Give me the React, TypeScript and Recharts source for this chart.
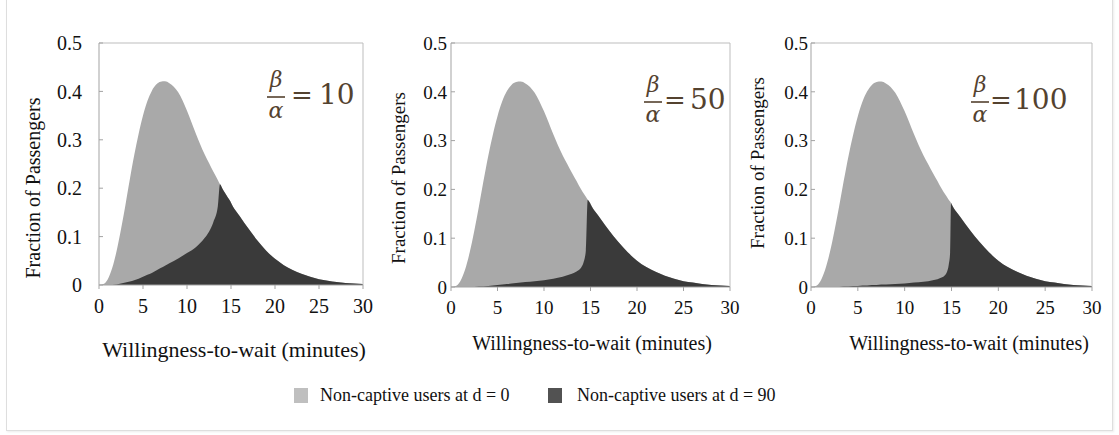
import React from 'react';
import { AreaChart, Area, XAxis, YAxis, ReferenceLine } from 'recharts';

// ---------- data ----------
const waitMinutes = [
  0, 0.5, 1, 1.5, 2, 2.5, 3, 3.5, 4, 4.5, 5, 5.5, 6, 6.5, 7, 7.5, 8,
  9, 10, 11, 12,
  12.5, 13, 13.5, 13.75, 14, 14.25, 14.5, 14.7, 14.85, 14.95, 15,
  16, 17, 18, 19, 20, 21, 22, 23, 24, 25, 26, 27, 28, 29, 30,
];

// Non-captive users at d = 0 (same in all three panels)
const shareD0 = [
  0, 0.002, 0.012, 0.035, 0.07, 0.115, 0.165, 0.218, 0.268, 0.312, 0.35, 0.38, 0.401, 0.414, 0.42, 0.421, 0.417,
  0.398, 0.36, 0.313, 0.27,
  0.252, 0.234, 0.217, 0.208, 0.2, 0.192, 0.185, 0.179, 0.175, 0.172, 0.17,
  0.142, 0.116, 0.092, 0.071, 0.054, 0.041, 0.031, 0.023, 0.017, 0.012, 0.009, 0.006, 0.004, 0.003, 0.002,
];

// Non-captive users at d = 90, beta/alpha = 10
const shareD90Ratio10 = [
  0, 0, 0, 0, 0.001, 0.003, 0.005, 0.007, 0.01, 0.013, 0.017, 0.021, 0.025, 0.03, 0.035, 0.04, 0.045,
  0.055, 0.066, 0.078, 0.097,
  0.11, 0.13, 0.162, 0.208, 0.2, 0.192, 0.185, 0.179, 0.175, 0.172, 0.17,
  0.142, 0.116, 0.092, 0.071, 0.054, 0.041, 0.031, 0.023, 0.017, 0.012, 0.009, 0.006, 0.004, 0.003, 0.002,
];

// Non-captive users at d = 90, beta/alpha = 50
const shareD90Ratio50 = [
  0, 0, 0, 0, 0, 0, 0.001, 0.001, 0.002, 0.003, 0.004, 0.005, 0.006, 0.007, 0.008, 0.009, 0.01,
  0.012, 0.014, 0.017, 0.021,
  0.024, 0.027, 0.032, 0.035, 0.04, 0.05, 0.075, 0.179, 0.175, 0.172, 0.17,
  0.142, 0.116, 0.092, 0.071, 0.054, 0.041, 0.031, 0.023, 0.017, 0.012, 0.009, 0.006, 0.004, 0.003, 0.002,
];

// Non-captive users at d = 90, beta/alpha = 100
const shareD90Ratio100 = [
  0, 0, 0, 0, 0, 0, 0, 0.001, 0.001, 0.002, 0.002, 0.003, 0.003, 0.004, 0.004, 0.005, 0.005,
  0.006, 0.007, 0.009, 0.011,
  0.012, 0.014, 0.016, 0.018, 0.02, 0.023, 0.03, 0.045, 0.07, 0.172, 0.17,
  0.142, 0.116, 0.092, 0.071, 0.054, 0.041, 0.031, 0.023, 0.017, 0.012, 0.009, 0.006, 0.004, 0.003, 0.002,
];

const xTicks = [0, 5, 10, 15, 20, 25, 30];
const yTicks = [0, 0.1, 0.2, 0.3, 0.4, 0.5];
const ratioLabels = ['10', '50', '100'];
const xTitle = 'Willingness-to-wait (minutes)';
const yTitle = 'Fraction of Passengers';
const legendLabels = ['Non-captive users at d = 0', 'Non-captive users at d = 90'];

// ---------- layout / style ----------
const FONT = '"Liberation Serif", "Times New Roman", serif';
const MATH_FONT = '"DejaVu Serif", "Liberation Serif", serif';
const LIGHT = '#a9a9a9';
const DARK = '#3a3a3a';
const AXIS = '#a3a3a3';
const FRAME = '#bdbdbd';
const PLOT_TOP = 43;
const Y_AXIS_W = 95;
const CHART_H = 370;
const X_AXIS_H = 80;

const layouts = [
  { plotLeft: 99, plotRight: 363, plotBottom: 285, tickFont: 20, xTitleFont: 22, yTitleFont: 20, yTickMargin: 21,
    yTitleX: 33, yTitleY: 188, xTitleX: 234, xTitleBase: 357,
    beta: { cx: 276, betaBase: 87, lineY: 97, alphaBase: 118, eqX: 302, eqBase: 104, numX: 319, numBase: 104, numFont: 28 } },
  { plotLeft: 451, plotRight: 730, plotBottom: 287, tickFont: 19, xTitleFont: 20, yTitleFont: 19, yTickMargin: 8,
    yTitleX: 398, yTitleY: 178, xTitleX: 592, xTitleBase: 350,
    beta: { cx: 653, betaBase: 92, lineY: 102, alphaBase: 122, eqX: 675, eqBase: 109, numX: 690, numBase: 109, numFont: 28 } },
  { plotLeft: 811, plotRight: 1092, plotBottom: 287, tickFont: 19, xTitleFont: 20, yTitleFont: 19, yTickMargin: 7,
    yTitleX: 757, yTitleY: 163, xTitleX: 969, xTitleBase: 350,
    beta: { cx: 980, betaBase: 92, lineY: 102, alphaBase: 122, eqX: 1001, eqBase: 109, numX: 1014, numBase: 109, numFont: 28 } },
];

const darkSeries = [shareD90Ratio10, shareD90Ratio50, shareD90Ratio100];

function Panel({ idx }: { idx: number }) {
  const L = layouts[idx];
  const dark = darkSeries[idx];
  const data = waitMinutes.map((x, i) => ({ x, d0: shareD0[i], d90: dark[i] }));
  const chartLeft = L.plotLeft - Y_AXIS_W;
  const width = L.plotRight - chartLeft + 12;
  const bottom = CHART_H - L.plotBottom - X_AXIS_H;
  return (
    <div style={{ position: 'absolute', left: chartLeft, top: 0, width, height: CHART_H }}>
      <AreaChart width={width} height={CHART_H} data={data}
        margin={{ top: PLOT_TOP, right: 12, left: 0, bottom }}>
        <XAxis dataKey="x" type="number" domain={[0, 30]} ticks={xTicks} interval={0}
          height={X_AXIS_H} tickSize={4} tickMargin={10} stroke={AXIS}
          tick={{ fill: '#111', fontSize: L.tickFont, fontFamily: FONT }}
          label={{
            content: () => (
              <text x={L.xTitleX - chartLeft} y={L.xTitleBase} textAnchor="middle"
                fontFamily={FONT} fontSize={L.xTitleFont} fill="#111">{xTitle}</text>
            ),
          }} />
        <YAxis type="number" domain={[0, 0.5]} ticks={yTicks} interval={0} width={Y_AXIS_W}
          tickSize={-4} tickMargin={L.yTickMargin} stroke={AXIS}
          tick={{ fill: '#111', fontSize: L.tickFont, fontFamily: FONT }}
          label={{
            content: () => (
              <text x={L.yTitleX - chartLeft} y={L.yTitleY} textAnchor="middle" dominantBaseline="central"
                transform={`rotate(-90, ${L.yTitleX - chartLeft}, ${L.yTitleY})`}
                fontFamily={FONT} fontSize={L.yTitleFont} fill="#111">{yTitle}</text>
            ),
          }} />
        <Area type="monotone" dataKey="d0" stroke="none" fill={LIGHT} fillOpacity={1} isAnimationActive={false} />
        <Area type="monotone" dataKey="d90" stroke="none" fill={DARK} fillOpacity={1} isAnimationActive={false} />
        <ReferenceLine y={0.5} stroke={FRAME} />
        <ReferenceLine x={30} stroke={FRAME} />
      </AreaChart>
    </div>
  );
}

function Ratios() {
  const color = '#54422f';
  return (
    <svg width={1119} height={435} style={{ position: 'absolute', left: 0, top: 0, pointerEvents: 'none' }}>
      {layouts.map((L, i) => {
        const b = L.beta;
        return (
          <g key={i} fill={color}>
            <text x={b.cx} y={b.betaBase} textAnchor="middle" fontFamily={MATH_FONT} fontStyle="italic" fontSize={22}>β</text>
            <line x1={b.cx - 9} x2={b.cx + 9} y1={b.lineY} y2={b.lineY} stroke={color} strokeWidth={1.6} />
            <text x={b.cx} y={b.alphaBase} textAnchor="middle" fontFamily={MATH_FONT} fontStyle="italic" fontSize={22}>α</text>
            <text x={b.eqX} y={b.eqBase} textAnchor="middle" fontFamily={MATH_FONT} fontSize={26}>=</text>
            <text x={b.numX} y={b.numBase} textAnchor="start" fontFamily={MATH_FONT} fontSize={b.numFont}>{ratioLabels[i]}</text>
          </g>
        );
      })}
    </svg>
  );
}

function Legend() {
  const items = [
    { label: legendLabels[0], color: '#bfbfbf', sq: 294, tx: 320 },
    { label: legendLabels[1], color: '#525252', sq: 548, tx: 577 },
  ];
  return (
    <>
      {items.map((it, i) => (
        <React.Fragment key={i}>
          <div style={{ position: 'absolute', left: it.sq, top: 388, width: 14, height: 15, background: it.color }} />
          <div style={{ position: 'absolute', left: it.tx, top: 383, lineHeight: '24px', fontSize: 18, fontFamily: FONT, color: '#111', whiteSpace: 'nowrap' }}>{it.label}</div>
        </React.Fragment>
      ))}
    </>
  );
}

export default function App() {
  return (
    <div style={{ position: 'absolute', left: 0, top: 0, width: 1119, height: 435, background: '#fff', overflow: 'hidden', fontFamily: FONT }}>
      <div style={{ position: 'absolute', left: 6, top: -2, width: 1105, height: 431, border: '1px solid #dedede', boxShadow: '1px 1px 2px rgba(0,0,0,0.08)' }} />
      <Panel idx={0} />
      <Panel idx={1} />
      <Panel idx={2} />
      <Ratios />
      <Legend />
    </div>
  );
}
